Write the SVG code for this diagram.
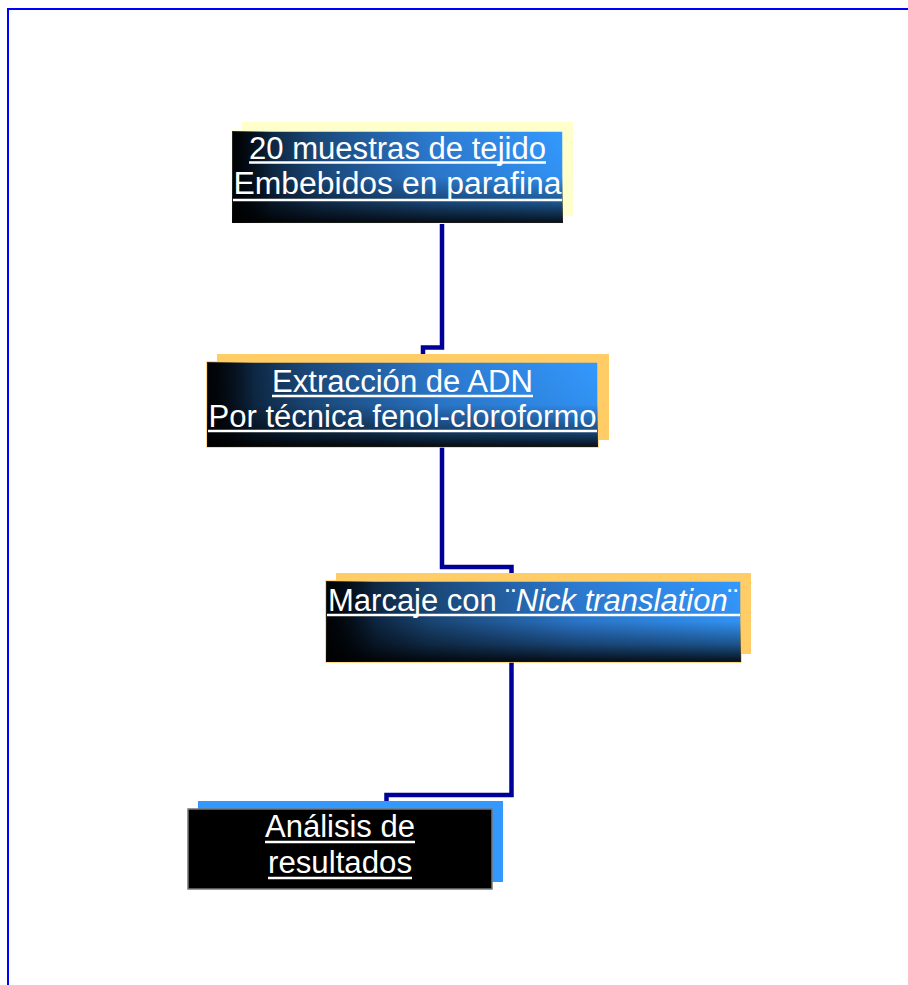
<svg xmlns="http://www.w3.org/2000/svg" width="908" height="985" viewBox="0 0 908 985">
<defs>
<linearGradient id="gH" x1="0" y1="0" x2="1" y2="0">
<stop offset="0" stop-color="#020a14"/>
<stop offset="0.25" stop-color="#1a4777"/>
<stop offset="0.6" stop-color="#2c7ad0"/>
<stop offset="1" stop-color="#3399ff"/>
</linearGradient>
<linearGradient id="gV" x1="0" y1="0" x2="0" y2="1">
<stop offset="0" stop-color="#000" stop-opacity="0"/>
<stop offset="0.5" stop-color="#000" stop-opacity="0.05"/>
<stop offset="0.78" stop-color="#000" stop-opacity="0.45"/>
<stop offset="1" stop-color="#000" stop-opacity="0.9"/>
</linearGradient>
<linearGradient id="gL" x1="0" y1="0" x2="1" y2="0">
<stop offset="0" stop-color="#000" stop-opacity="0.8"/>
<stop offset="0.12" stop-color="#000" stop-opacity="0"/>
</linearGradient>
</defs>
<style>
.t{font-family:"Liberation Sans",Arial,sans-serif;font-size:31px;fill:#ffffff;text-anchor:middle}
.u{stroke:#ffffff;stroke-width:2.5}
.c{fill:none;stroke:#000099;stroke-width:4.5}
</style>
<rect x="0" y="0" width="908" height="985" fill="#ffffff"/>
<path d="M8,985 V9 H908" fill="none" stroke="#0000ff" stroke-width="2"/>
<g id="connectors">
<path class="c" d="M442,224 V347.5 H423 V356"/>
<path class="c" d="M442,447 V567 H511.5 V575"/>
<path class="c" d="M511.5,662 V795 H386.5 V803"/>
</g>
<g id="n1">
<rect x="242" y="122" width="331" height="94" fill="#ffffcc"/>
<rect x="232" y="131" width="331" height="92" fill="url(#gH)" stroke="#ffffcc" stroke-width="1.5"/>
<rect x="232" y="131" width="331" height="92" fill="url(#gV)"/>
<rect x="232" y="131" width="331" height="92" fill="url(#gL)"/>
<text class="t" x="397.5" y="159" textLength="297" lengthAdjust="spacingAndGlyphs">20 muestras de tejido</text>
<line class="u" x1="249" y1="162.5" x2="546" y2="162.5"/>
<text class="t" x="397.5" y="194" textLength="328" lengthAdjust="spacingAndGlyphs">Embebidos  en parafina</text>
<line class="u" x1="233" y1="200" x2="562" y2="200"/>
</g>
<g id="n2">
<rect x="217" y="354" width="392" height="86" fill="#ffcc66"/>
<rect x="207" y="362" width="391" height="85" fill="url(#gH)" stroke="#ffcc66" stroke-width="1.5"/>
<rect x="207" y="362" width="391" height="85" fill="url(#gV)"/>
<rect x="207" y="362" width="391" height="85" fill="url(#gL)"/>
<text class="t" x="402.5" y="392" textLength="261" lengthAdjust="spacingAndGlyphs">Extracción de ADN</text>
<line class="u" x1="272" y1="396" x2="533" y2="396"/>
<text class="t" x="402.5" y="427" textLength="388" lengthAdjust="spacingAndGlyphs">Por técnica fenol-cloroformo</text>
<line class="u" x1="208" y1="431" x2="597" y2="431"/>
</g>
<g id="n3">
<rect x="336" y="573" width="415" height="81" fill="#ffcc66"/>
<rect x="326" y="581" width="415" height="81" fill="url(#gH)" stroke="#ffcc66" stroke-width="1.5"/>
<rect x="326" y="581" width="415" height="81" fill="url(#gV)"/>
<rect x="326" y="581" width="415" height="81" fill="url(#gL)"/>
<text class="t" x="533" y="611" textLength="410" lengthAdjust="spacingAndGlyphs">Marcaje con ¨<tspan font-style="italic">Nick translation</tspan>¨</text>
<line class="u" x1="327" y1="615" x2="740" y2="615"/>
</g>
<g id="n4">
<rect x="198" y="801" width="305" height="81" fill="#3399ff"/>
<rect x="188" y="809" width="304" height="80" fill="#000000" stroke="#777777" stroke-width="1.5"/>
<text class="t" x="340" y="837" textLength="150" lengthAdjust="spacingAndGlyphs">Análisis de</text>
<line class="u" x1="265" y1="842" x2="415" y2="842"/>
<text class="t" x="340" y="873" textLength="144" lengthAdjust="spacingAndGlyphs">resultados</text>
<line class="u" x1="268" y1="878" x2="412" y2="878"/>
</g>
</svg>
